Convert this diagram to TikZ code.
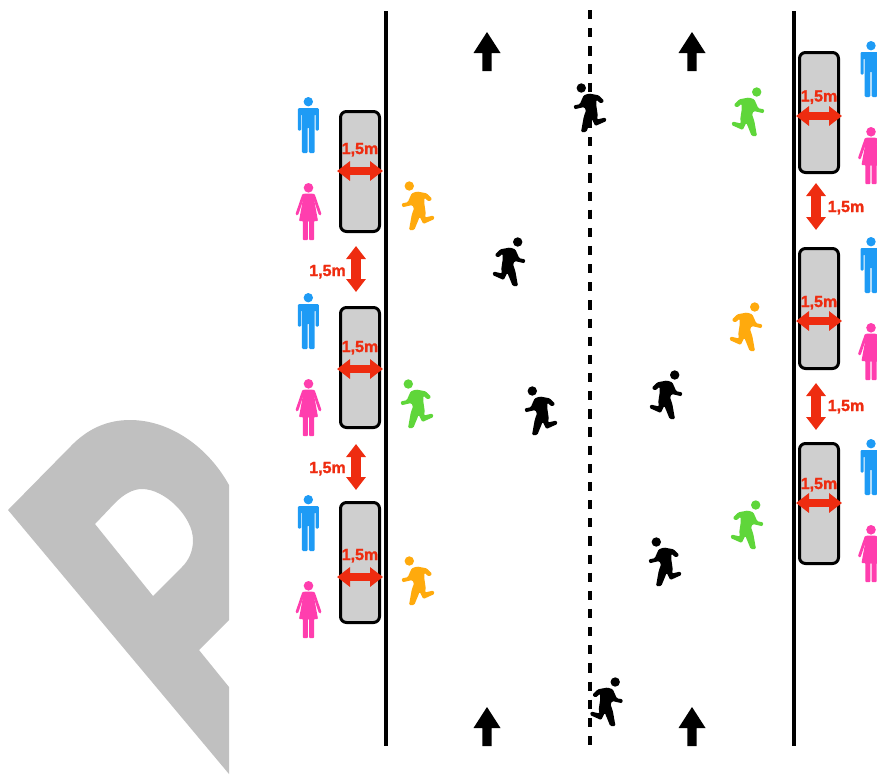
\documentclass[tikz,border=0pt]{standalone}
\usepackage{fontspec}
\setmainfont{Liberation Sans}
\newfontfamily\labfont{Liberation Sans}[BoldFeatures={FakeBold=1.5}]
\usetikzlibrary{arrows.meta}
\definecolor{cblue}{HTML}{1E9BF5}
\definecolor{cpink}{HTML}{FF3EAE}
\definecolor{corange}{HTML}{FFAA0D}
\definecolor{cgreen}{HTML}{5FD63A}
\definecolor{cred}{HTML}{EE2C10}
\definecolor{cslab}{HTML}{CFCFCF}
\definecolor{cmark}{HTML}{C0C0C0}
\tikzset{
  x=1pt,y=-1pt,
  slab/.style={draw=black,fill=cslab,line width=3,rounded corners=6,minimum width=39,minimum height=120,inner sep=0,outer sep=0},
  road/.style={line width=4,black},
  dim/.style={cred,{Triangle[length=13pt,width=19pt]}-{Triangle[length=13pt,width=19pt]}},
  dimlabel/.style={text=cred,font=\labfont\bfseries\fontsize{16}{16}\selectfont,inner sep=0,anchor=base},
  pics/man/.style={code={
    \fill[#1] (0,4.7) circle (4.7);
    \fill[#1,rounded corners=1.2] (-10.5,11) -- (10.5,11) -- (10.5,33.7) -- (7.3,33.7) -- (7.3,17) -- (6.4,17) -- (6.4,56) -- (0.6,56) -- (0.6,30) -- (-0.6,30) -- (-0.6,56) -- (-6.4,56) -- (-6.4,17) -- (-7.3,17) -- (-7.3,33.7) -- (-10.5,33.7) -- cycle;
  }},
  pics/woman/.style={code={
    \fill[#1] (0,4.8) circle (4.8);
    \fill[#1,rounded corners=0.8] (-4.5,10.5) -- (4.5,10.5) -- (9.5,38) -- (5.6,38) -- (5.6,57) -- (0.6,57) -- (0.6,38) -- (-0.6,38) -- (-0.6,57) -- (-5.6,57) -- (-5.6,38) -- (-9.5,38) -- cycle;
    \draw[#1,line width=2.8,line cap=round] (-5,12) -- (-11.5,31) (5,12) -- (11.5,31);
  }},
  pics/runner/.style={code={
    \fill[#1] (-8.7,-20) circle (4.7);
    \fill[#1,rounded corners=1.2] (-6.3,-12.7) -- (-1,-14.5) -- (8.7,-12.7) -- (14.3,-7) -- (11,-4.3) -- (6.3,-8.3) -- (6.3,-2.7) -- (7.7,7) -- (7,11.5) -- (15.5,9.5) -- (16.5,13) -- (5.3,18) -- (1.7,10.7) -- (-3.7,24) -- (-9,24) -- (-6.3,9) -- (-4,2.3) -- (-5.7,-1) -- (-15.7,1.3) -- (-16.3,-2.7) -- (-10.3,-3.7) -- cycle;
  }},
  pics/uparrow/.style={code={
    \fill[black] (0,0) -- (13.5,21) -- (4.7,21) -- (4.7,39) -- (-4.7,39) -- (-4.7,21) -- (-13.5,21) -- cycle;
  }},
}
\begin{document}
\begin{tikzpicture}
\useasboundingbox (0,0) rectangle (877,774);
\begin{scope}
\clip (0,0) rectangle (877,774);
% watermark
\fill[cmark,even odd rule] (8,510) -- (70,447) .. controls (88,428) and (108,420) .. (130,420)
  .. controls (170,420) and (208,447) .. (229,485) -- (229,620) -- (199,650) -- (229,687) -- (229,774) -- cycle
  (95,524) -- (115,503) .. controls (124,494) and (133,489) .. (142,489)
  .. controls (165,489) and (193,517) .. (193,540) .. controls (193,551) and (189,560) .. (182,567) -- (153,596) -- cycle;
% road
\coordinate (ltop) at (386,11); \coordinate (lbot) at (386,746);
\coordinate (rtop) at (794,11); \coordinate (rbot) at (794,746);
\coordinate (ctop) at (590,10); \coordinate (cbot) at (590,746);
\draw[road] (ltop) -- (lbot);
\draw[road] (rtop) -- (rbot);
\draw[line width=4.3,black,dash pattern=on 9.2pt off 8.95pt] (ctop) -- (cbot);
% arrows
\foreach \n/\x/\y in {a/487/32,b/692/32,c/487/707,d/692/707} \pic (\n) at (\x,\y) {uparrow};
% slabs
\foreach \n/\x/\y/\ay/\by in {l1/360/171.5/171/154,l2/360/367.5/369/352,l3/360/562.5/577/560,r1/819/112.5/116/101.5,r2/819/308.5/321/307,r3/819/503.5/503/489}{
  \node[slab] (\n) at (\x,\y) {};
  \coordinate (\n w) at (\x-23,\ay); \coordinate (\n e) at (\x+23,\ay);
  \draw[dim,line width=8] (\n w) -- (\n e);
  \node[dimlabel] (\n t) at (\x,\by) {1,5m};
}
% gap dimensions
\foreach \n/\x/\ya/\yb/\lx/\ly in {g1/356/246/292/327.5/276,g2/356/444/490/327.5/473,g3/816/183/230/846/212,g4/816/383/430/846/411}{
  \coordinate (\n a) at (\x,\ya); \coordinate (\n b) at (\x,\yb);
  \draw[dim,line width=9.5] (\n a) -- (\n b);
  \node[dimlabel] (\n t) at (\lx,\ly) {1,5m};
}
% people
\foreach \n/\x/\y in {m1/308.3/97,m2/308.3/293,m3/308.3/495,m4/871/41,m5/871/237,m6/871/439} \pic (\n) at (\x,\y) {man=cblue};
\foreach \n/\x/\y in {w1/308.5/183,w2/308.5/379,w3/308.5/581,w4/871/127,w5/871/323,w6/871/525} \pic (\n) at (\x,\y) {woman=cpink};
% runners
\foreach \n/\x/\y/\c in {o1/418/206/corange,o2/418/581/corange,g1/417/404/cgreen,k1/590/108/black,k2/541/411/black,k3/665/562/black}
  \pic (\n) at (\x,\y) {runner=\c};
\foreach \n/\x/\y/\c in {o3/746/327/corange,g2/748/112/cgreen,g3/747/525/cgreen,k4/509/262/black,k5/666/395/black,k6/606.5/702/black}
  \pic[xscale=-1] (\n) at (\x,\y) {runner=\c};
\end{scope}
\end{tikzpicture}
\end{document}
